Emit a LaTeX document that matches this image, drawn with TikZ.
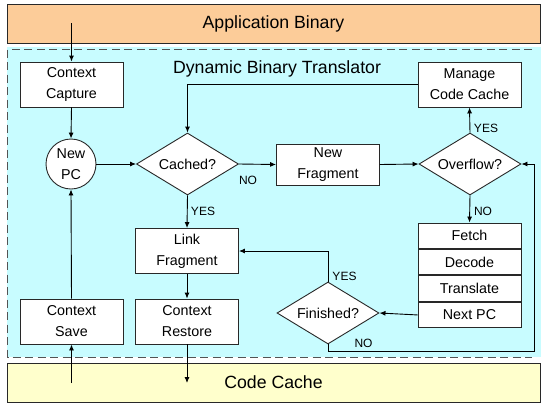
\documentclass[tikz,border=0pt]{standalone}
\usepackage{fontspec}
\setmainfont{Liberation Sans}
\usetikzlibrary{shapes.geometric,arrows.meta,calc}
\definecolor{appfill}{RGB}{252,204,153}
\definecolor{dbtfill}{RGB}{200,252,255}
\definecolor{cachefill}{RGB}{255,255,204}
\definecolor{edge}{RGB}{40,40,40}
\begin{document}
\begin{tikzpicture}[x=1pt,y=-1pt,
  every node/.style={font=\fontsize{14.3}{21}\selectfont, text=black},
  box/.style={draw=edge, fill=white, line width=0.9pt, align=center,
    minimum width=103pt, minimum height=45pt, inner sep=0pt},
  cell/.style={draw=edge, fill=white, line width=0.9pt,
    minimum width=103pt, minimum height=25.5pt, inner sep=0pt},
  decision/.style={draw=edge, fill=white, line width=0.9pt, diamond, aspect=1.6,
    minimum width=102pt, minimum height=62pt, inner sep=0pt},
  pc/.style={draw=edge, fill=white, line width=0.9pt, circle,
    minimum size=50pt, inner sep=0pt, align=center},
  lbl/.style={font=\fontsize{12}{14}\selectfont, inner sep=0pt},
  band/.style={draw=edge, line width=0.9pt, font=\fontsize{17.7}{20}\selectfont},
  arr/.style={draw=black, line width=0.9pt, -{Latex[length=6pt,width=5pt]}}]
\useasboundingbox (0,0) rectangle (541,405);

% translator area and its dashed frame
\fill[dbtfill] (7,47) rectangle (541,357);
\draw[edge!80, line width=1pt, dash pattern=on 8pt off 4.5pt]
  (532,49) -- (7.5,49) -- (7.5,357) -- (532,357);

% top and bottom bands
\node[band, fill=appfill, minimum width=533pt, minimum height=39pt, inner sep=0pt]
  (app) at (273.5,23.5) {Application Binary};
\node[band, fill=cachefill, minimum width=533pt, minimum height=39pt, inner sep=0pt]
  (cache) at (273.5,382.5) {Code Cache};

\node[font=\fontsize{17.7}{20}\selectfont] (title) at (277,69) {Dynamic Binary Translator};

% blocks
\node[box] (capture) at (71.5,84.5) {Context\\Capture};
\node[pc] (newpc) at (71,164) {New\\PC};
\node[box] (save) at (71.5,321.5) {Context\\Save};
\node[decision] (cached) at (187.5,164) {Cached?};
\node[box, minimum height=41pt] (newfrag) at (328,164.5) {New\\Fragment};
\node[decision] (overflow) at (470,164) {Overflow?};
\node[box] (manage) at (469.5,84.5) {Manage\\Code Cache};
\node[box] (link) at (187,251) {Link\\Fragment};
\node[box] (restore) at (187,321.5) {Context\\Restore};
\node[cell] (fetch) at (469.5,235.75) {Fetch};
\node[cell, anchor=north] (decode) at (fetch.south) {Decode};
\node[cell, anchor=north] (translate) at (decode.south) {Translate};
\node[cell, anchor=north] (nextpc) at (translate.south) {Next PC};
\node[decision] (finished) at (328,313) {Finished?};

% free ends inside the bands and the loop corner
\coordinate (appin) at (71.5,23);
\coordinate (cacheout) at (187,383);
\coordinate (cachein) at (71.5,383);
\coordinate (loopR) at (534,351);

% connectors
\draw[arr] (appin) -- (capture.north);
\draw[arr] (capture.south) -- (newpc.north);
\draw[arr] (newpc.east) -- (cached.west);
\draw[arr] (cached.east) -- (newfrag.west);
\draw[arr] (newfrag.east) -- (overflow.west);
\draw[arr] (overflow.north) -- (manage.south);
\draw[arr] (manage.west) -| (cached.north);
\draw[arr] (overflow.south) -- (fetch.north);
\draw[arr] (nextpc.west) -- (finished.east);
\draw[arr] (finished.north) |- (link.east);
\draw[arr] (finished.south) |- (loopR) |- (overflow.east);
\draw[arr] (cached.south) -- (link.north);
\draw[arr] (link.south) -- (restore.north);
\draw[arr] (restore.south) -- (cacheout);
\draw[arr] (cachein) -- (save.south);
\draw[arr] (save.north) -- (newpc.south);

% branch labels
\node[lbl] (noC) at (248,180) {NO};
\node[lbl] (yesC) at (203,211) {YES};
\node[lbl] (yesO) at (486,128) {YES};
\node[lbl] (noO) at (483,211) {NO};
\node[lbl] (yesF) at (344.5,276) {YES};
\node[lbl] (noF) at (363.5,343) {NO};
\end{tikzpicture}
\end{document}
